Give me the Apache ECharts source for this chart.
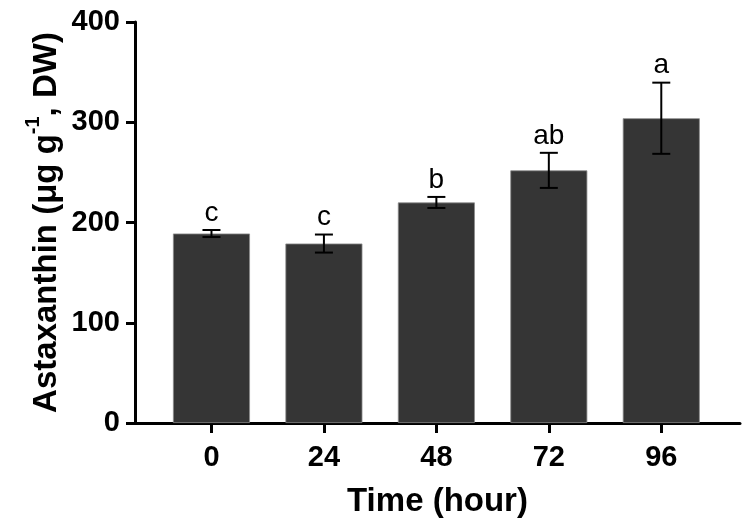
<!DOCTYPE html>
<html>
<head>
<meta charset="utf-8">
<script src="https://cdn.jsdelivr.net/npm/echarts@6/dist/echarts.min.js"></script>
<style>
  html, body { margin: 0; padding: 0; background: #fff; }
  #chart { width: 752px; height: 531px; }
</style>
</head>
<body>
<div id="chart"></div>
<script>
// Astaxanthin content over time — bars with SD error bars and significance letters.
const hours = ["0", "24", "48", "72", "96"];
const means = [189, 179, 220, 252, 304];
const errors = [3.5, 9, 5.5, 17.5, 35.5];
const letters = ["c", "c", "b", "ab", "a"];
const yTicks = [0, 100, 200, 300, 400];

const FONT = "'Liberation Sans', Arial, sans-serif";
const idx = hours.map((_, i) => i);

const chart = echarts.init(document.getElementById("chart"), null, { renderer: "canvas" });

chart.setOption({
  animation: false,
  backgroundColor: "#fff",
  grid: { left: 135, right: 12, top: 22, bottom: 108 },
  xAxis: {
    type: "value",
    min: -0.68,
    max: 4.7,
    splitLine: { show: false },
    axisLine: { show: true, onZero: false, lineStyle: { color: "#000", width: 3 } },
    axisTick: { show: true, customValues: idx, length: 10, lineStyle: { color: "#000", width: 3 } },
    axisLabel: {
      customValues: idx,
      formatter: (v) => hours[Math.round(v)],
      color: "#000", fontSize: 29, fontWeight: "bold", fontFamily: FONT, margin: 20,
    },
    name: "Time (hour)",
    nameLocation: "middle",
    nameGap: 62,
    nameMoveOverlap: false,
    nameTextStyle: { color: "#000", fontSize: 33, fontWeight: "bold", fontFamily: FONT },
  },
  yAxis: {
    type: "value",
    min: 0,
    max: 400,
    interval: 100,
    splitLine: { show: false },
    axisLine: { show: true, onZero: false, lineStyle: { color: "#000", width: 3 } },
    axisTick: { show: true, length: 9, lineStyle: { color: "#000", width: 3 } },
    axisLabel: {
      customValues: yTicks,
      color: "#000", fontSize: 29, fontWeight: "bold", fontFamily: FONT, margin: 15,
    },
    name: "{t|Astaxanthin (μg g}{s|-1}{t|, DW)}",
    nameLocation: "middle",
    nameGap: 72,
    nameRotate: 90,
    nameMoveOverlap: false,
    nameTextStyle: {
      color: "#000", fontFamily: FONT,
      rich: {
        t: { fontSize: 33, fontWeight: "bold", fontFamily: FONT, color: "#000", lineHeight: 40, verticalAlign: "bottom" },
        s: { fontSize: 20, fontWeight: "bold", fontFamily: FONT, color: "#000", lineHeight: 40, verticalAlign: "top" },
      },
    },
  },
  series: [
    {
      type: "bar",
      barWidth: 77,
      data: means.map((m, i) => [i, m]),
      itemStyle: { color: "#353535", borderColor: "#8a8a8a", borderWidth: 0.8 },
    },
    {
      type: "custom",
      data: means.map((m, i) => [i, m - errors[i], m + errors[i]]),
      renderItem: (params, api) => {
        const i = api.value(0);
        const lo = api.coord([i, api.value(1)]);
        const hi = api.coord([i, api.value(2)]);
        const cap = 9;
        const st = { stroke: "#000", lineWidth: 2 };
        return {
          type: "group",
          children: [
            { type: "line", shape: { x1: hi[0], y1: hi[1], x2: lo[0], y2: lo[1] }, style: st },
            { type: "line", shape: { x1: hi[0] - cap, y1: hi[1], x2: hi[0] + cap, y2: hi[1] }, style: st },
            { type: "line", shape: { x1: lo[0] - cap, y1: lo[1], x2: lo[0] + cap, y2: lo[1] }, style: st },
            {
              type: "text",
              x: hi[0],
              y: hi[1] - 3,
              style: {
                text: letters[params.dataIndex],
                fill: "#000",
                font: "28px " + FONT,
                align: "center",
                verticalAlign: "bottom",
              },
            },
          ],
        };
      },
      z: 5,
    },
  ],
});
</script>
</body>
</html>
